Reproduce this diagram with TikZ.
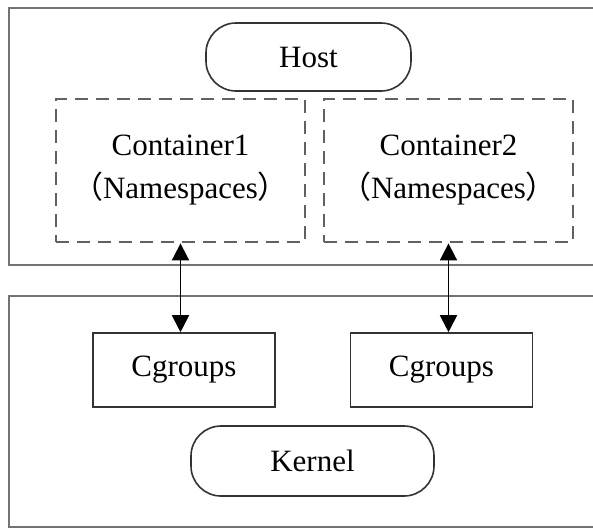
\documentclass[tikz,border=0pt]{standalone}
\usepackage{fontspec}
\setmainfont{Liberation Serif}
\newfontfamily\cjk{Noto Sans CJK SC}
\usetikzlibrary{arrows.meta}
\begin{document}
\begin{tikzpicture}[x=1pt,y=-1pt,
  outerline/.style={draw=black!55,line width=2.6pt},
  pill/.style={draw=black!80,line width=1.6pt,rounded corners=30pt,minimum width=205pt,minimum height=68pt,font=\fontsize{31}{43}\selectfont},
  dashbox/.style={draw=black!62,line width=2.8pt,dash pattern=on 13pt off 8pt,minimum width=249pt,minimum height=143pt,align=center,font=\fontsize{31}{43}\selectfont},
  cgbox/.style={draw=black!80,line width=1.6pt,minimum width=182pt,minimum height=74pt,font=\fontsize{31}{43}\selectfont},
  link/.style={draw=black,line width=1.8pt,{Triangle[length=17pt,width=17pt]}-{Triangle[length=17pt,width=17pt]}}]
\useasboundingbox (0,0) rectangle (593,528);
% outer frames
\draw[outerline] (600,8) -- (9,8) -- (9,265) -- (600,265);
\draw[outerline] (600,296) -- (9,296) -- (9,527) -- (600,527);
% host
\node[pill] (host) at (308.5,57) {Host};
\node[dashbox] (c1) at (180.5,170.5) {Container1\\{\cjk （}Namespaces{\cjk ）}};
\node[dashbox] (c2) at (448.5,170.5) {Container2\\{\cjk （}Namespaces{\cjk ）}};
% kernel
\node[cgbox] (g1) at (184,370) {Cgroups};
\node[cgbox] (g2) at (441.5,370) {Cgroups};
\node[pill,minimum width=243pt,minimum height=70pt] (kernel) at (312.5,461) {Kernel};
% links
\draw[link] (c1.south) -- (c1.south |- g1.north);
\draw[link] (c2.south) -- (c2.south |- g2.north);
\end{tikzpicture}
\end{document}
